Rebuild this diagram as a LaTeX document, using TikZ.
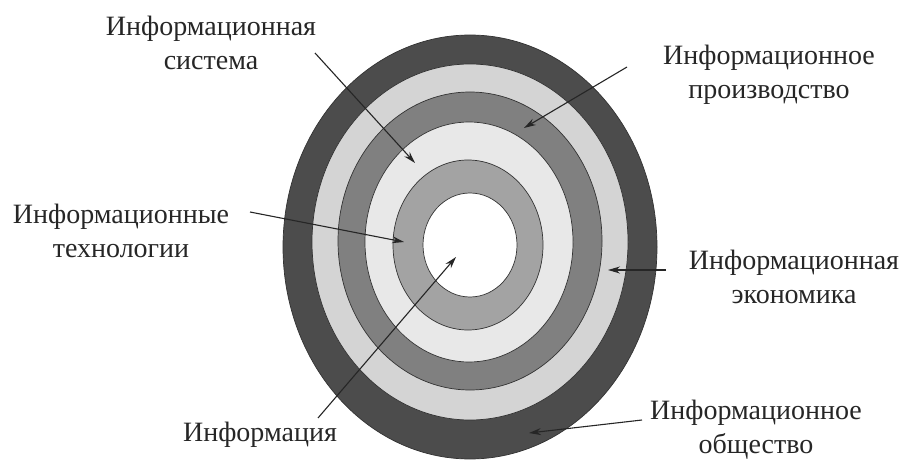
\documentclass[tikz,border=0pt]{standalone}
\usepackage{fontspec}
\setmainfont{Liberation Serif}
\newfontfamily\lblfont{Liberation Serif}
\usetikzlibrary{arrows.meta}

\definecolor{ringdark}{gray}{0.30}
\definecolor{ringlight}{gray}{0.83}
\definecolor{ringmid}{gray}{0.50}
\definecolor{ringpale}{gray}{0.91}
\definecolor{ringsoft}{gray}{0.64}

\begin{document}
\begin{tikzpicture}[x=1pt, y=-1pt,
    font=\lblfont\fontsize{28}{34}\selectfont,
    ring/.style={draw=black!80, line width=0.7pt},
    lbl/.style={align=center, inner sep=0pt, text=black!85},
    arr/.style={-{Stealth[length=12pt, width=7pt]}, line width=1.1pt, black!85}]
  \useasboundingbox (0,0) rectangle (904,462);

  % Rings, outermost first
  \filldraw[ring, fill=ringdark]  (470,247) ellipse [x radius=187, y radius=212];
  \filldraw[ring, fill=ringlight] (470,242) ellipse [x radius=158, y radius=178];
  \filldraw[ring, fill=ringmid]   (470,241) ellipse [x radius=132, y radius=149];
  \filldraw[ring, fill=ringpale]  (469,242) ellipse [x radius=104, y radius=120];
  \filldraw[ring, fill=ringsoft]  (468,245) ellipse [x radius=75,  y radius=85];
  \filldraw[ring, fill=white]     (470,245) ellipse [x radius=47,  y radius=52];

  % Labels
  \node[lbl] (sys)  at (211,43)  {Информационная\\система};
  \node[lbl] (tech) at (121,231) {Информационные\\технологии};
  \node[lbl] (prod) at (769,75)  {Информационное\\производство};
  \node[lbl] (econ) at (794,277) {Информационная\\экономика};
  \node[lbl] (soc)  at (756,430) {Информационное\\общество};
  \node[lbl] (info) at (260,435) {Информация};

  % Arrow ends
  \coordinate (sys-a)  at (315,53);
  \coordinate (sys-b)  at (415,163);
  \coordinate (tech-a) at (250,212);
  \coordinate (tech-b) at (404,242);
  \coordinate (prod-a) at (627,67);
  \coordinate (prod-b) at (524,128);
  \coordinate (econ-a) at (666,270);
  \coordinate (econ-b) at (608,270);
  \coordinate (soc-a)  at (642,420);
  \coordinate (soc-b)  at (529,433);
  \coordinate (info-a) at (318,418);
  \coordinate (info-b) at (456,257);

  % Arrows
  \draw[arr] (sys-a) -- (sys-b);
  \draw[arr] (tech-a) -- (tech-b);
  \draw[arr] (prod-a) -- (prod-b);
  \draw[arr] (econ-a) -- (econ-b);
  \draw[arr] (soc-a) -- (soc-b);
  \draw[arr] (info-a) -- (info-b);
\end{tikzpicture}
\end{document}
